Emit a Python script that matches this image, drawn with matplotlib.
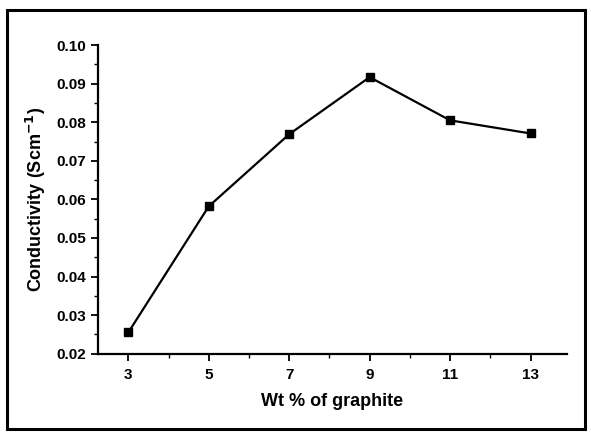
import matplotlib
matplotlib.use("Agg")
import matplotlib.pyplot as plt
from matplotlib.patches import Rectangle
from matplotlib.ticker import MultipleLocator

# data
wt_graphite = [3, 5, 7, 9, 11, 13]
conductivity = [0.0255, 0.0582, 0.0769, 0.0917, 0.0805, 0.0771]
x_ticks = [3, 5, 7, 9, 11, 13]
y_ticks = [0.02, 0.03, 0.04, 0.05, 0.06, 0.07, 0.08, 0.09, 0.10]

plt.rcParams['font.family'] = ['Liberation Sans', 'DejaVu Sans']
plt.rcParams['font.weight'] = 'bold'

fig = plt.figure(figsize=(5.91, 4.34), dpi=100)

# outer frame of the scanned figure
fig.patches.append(Rectangle((0.012, 0.012), 0.978, 0.965, transform=fig.transFigure,
                             fill=False, edgecolor='black', linewidth=2.2))

ax = fig.add_axes([0.166, 0.185, 0.793, 0.711])
ax.plot(wt_graphite, conductivity, color='black', linewidth=1.6,
        marker='s', markersize=5.5, markerfacecolor='black')

ax.set_xlim(2.25, 13.9)
ax.set_ylim(0.02, 0.10)
ax.set_xticks(x_ticks)
ax.set_yticks(y_ticks)
ax.set_yticklabels([f"{v:.2f}" for v in y_ticks])
ax.xaxis.set_minor_locator(MultipleLocator(1))
ax.yaxis.set_minor_locator(MultipleLocator(0.005))

for side in ['top', 'right']:
    ax.spines[side].set_visible(False)
for side in ['left', 'bottom']:
    ax.spines[side].set_linewidth(1.6)

ax.tick_params(which='major', length=5, width=1.3, labelsize=11, direction='out')
ax.tick_params(which='minor', length=3, width=1.0, direction='out')
ax.tick_params(axis='x', pad=5)
for lbl in ax.get_xticklabels() + ax.get_yticklabels():
    lbl.set_fontweight('bold')

ax.set_xlabel('Wt % of graphite', fontsize=13, fontweight='bold', labelpad=8)
ax.set_ylabel('Conductivity (Scm$^{\\mathbf{-1}}$)', fontsize=13, fontweight='bold', labelpad=6)

fig.savefig('out.png', dpi=100)
